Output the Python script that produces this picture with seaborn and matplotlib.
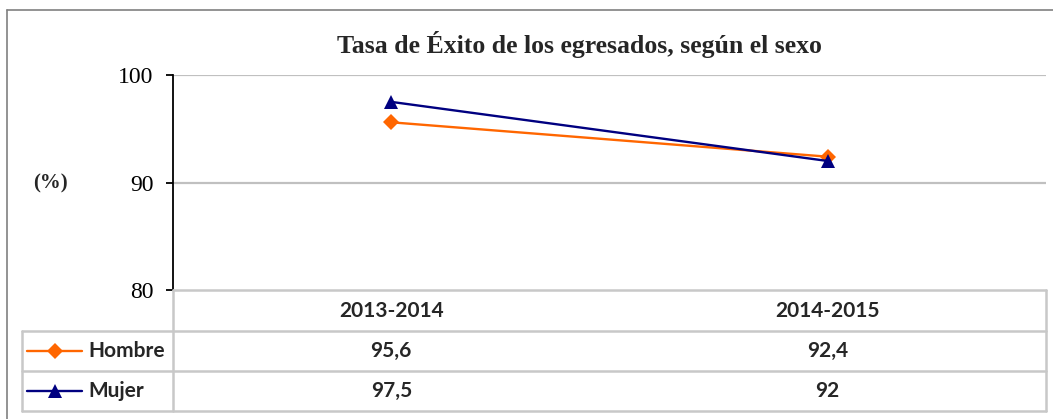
import matplotlib
matplotlib.use("Agg")
import matplotlib.pyplot as plt
from matplotlib.lines import Line2D
import seaborn as sns
import pandas as pd

# Data
periods = ["2013-2014", "2014-2015"]
hombre = [95.6, 92.4]
mujer = [97.5, 92.0]
hombre_labels = ["95,6", "92,4"]
mujer_labels = ["97,5", "92"]
series_names = ["Hombre", "Mujer"]
y_ticks = [80, 90, 100]

title = "Tasa de Éxito de los egresados, según el sexo"
y_label = "(%)"

colors = {"Hombre": "#FF6600", "Mujer": "#000080"}
markers = {"Hombre": "D", "Mujer": "^"}
msizes = {"Hombre": 8.5, "Mujer": 10.5}

sns.set_theme(style="white")
plt.rcParams["font.family"] = ["Liberation Serif", "DejaVu Serif"]

W, H = 1053, 419
fig = plt.figure(figsize=(W / 100, H / 100), dpi=100)
fig.patch.set_facecolor("white")

def fx(px):
    return px / W

def fy(py):
    return 1 - py / H

# plot area in pixel coordinates
L, R, T, B = 173, 1046, 75, 290
ax = fig.add_axes([fx(L), fy(B), fx(R - L), (B - T) / H])

df = pd.DataFrame({
    "x": [0, 1, 0, 1],
    "value": hombre + mujer,
    "serie": ["Hombre"] * 2 + ["Mujer"] * 2,
})
sns.lineplot(data=df, x="x", y="value", hue="serie", style="serie",
             palette=colors, markers=markers, dashes=False,
             markersize=9, linewidth=1.7, markeredgewidth=0,
             legend=False, ax=ax, zorder=3)
for line, name in zip(ax.get_lines(), series_names):
    line.set_markersize(msizes[name])

ax.set_xlim(-0.5, 1.5)
ax.set_ylim(80, 100)
ax.set_yticks(y_ticks)
ax.set_yticklabels([str(t) for t in y_ticks], fontsize=17,
                   family=["Liberation Serif"])
ax.set_xticks([])
ax.set_xlabel("")
ax.set_ylabel("")
ax.grid(False)
for yv in [90, 100]:
    ax.axhline(yv, color="#C0C0C0", linewidth=1.6, zorder=1)
for side in ["top", "right", "bottom"]:
    ax.spines[side].set_visible(False)
ax.spines["left"].set_color("black")
ax.spines["left"].set_linewidth(1.3)
ax.tick_params(axis="y", direction="out", length=5, width=1.3,
               color="black", left=True, pad=9, labelcolor="black")

# Title and axis label
fig.text(fx(579), fy(45), title, ha="center", va="center",
         fontsize=18.5, fontweight="bold", family=["Liberation Serif"])
fig.text(fx(50), fy(183), y_label, ha="center", va="center",
         fontsize=15, fontweight="bold", family=["Liberation Serif"])

# Outer chart frame
fig.add_artist(Line2D([fx(7), fx(1053)], [fy(10), fy(10)],
                      color="#808080", linewidth=1.2))
fig.add_artist(Line2D([fx(7), fx(7)], [fy(10), fy(419)],
                      color="#808080", linewidth=1.2))

# Data table beneath the plot
grid_c = "#C8C8C8"
lw = 1.8
row_y = [290, 331, 371, 411]
def hline(y, x0, x1):
    fig.add_artist(Line2D([fx(x0), fx(x1)], [fy(y), fy(y)],
                          color=grid_c, linewidth=lw))
def vline(x, y0, y1):
    fig.add_artist(Line2D([fx(x), fx(x)], [fy(y0), fy(y1)],
                          color=grid_c, linewidth=lw))

hline(row_y[0], L, R)
for y in row_y[1:]:
    hline(y, 22, R)
vline(L, row_y[0], row_y[3])
vline(R, row_y[0], row_y[3])
vline(22, row_y[1], row_y[3])

col_x = [ax.transData.transform((i, 80))[0] for i in range(len(periods))]
table_font = dict(fontsize=15, fontweight="bold", family=["Lato", "DejaVu Sans"])

def row_mid(i):
    return (row_y[i] + row_y[i + 1]) / 2

for cx, p in zip(col_x, periods):
    fig.text(cx / W, fy(row_mid(0)), p, ha="center", va="center", **table_font)

for r, (name, labels) in enumerate([("Hombre", hombre_labels), ("Mujer", mujer_labels)], start=1):
    ym = row_mid(r)
    # legend key: line segment with the series marker in its middle
    fig.add_artist(Line2D([fx(27), fx(82)], [fy(ym), fy(ym)],
                          color=colors[name], linewidth=1.7))
    fig.add_artist(Line2D([fx(54.5)], [fy(ym)], color=colors[name],
                          marker=markers[name], markersize=msizes[name],
                          markeredgewidth=0, linestyle="none"))
    fig.text(fx(88), fy(ym), name, ha="left", va="center", **table_font)
    for cx, lab in zip(col_x, labels):
        fig.text(cx / W, fy(ym), lab, ha="center", va="center", **table_font)

fig.savefig("out.png", dpi=100, facecolor="white")
